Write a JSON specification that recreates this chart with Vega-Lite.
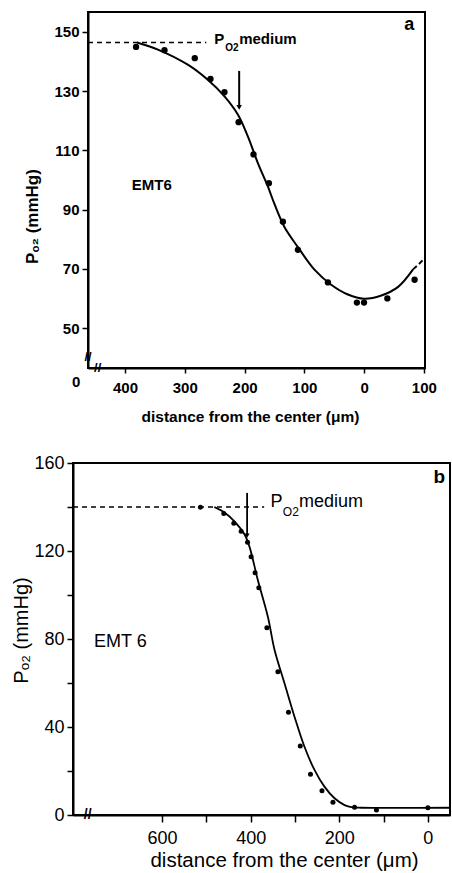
{
  "$schema": "https://vega.github.io/schema/vega-lite/v6.json",
  "padding": {"left": 10, "top": 11, "right": 0, "bottom": 0},
  "background": "white",
  "config": {
    "view": {"stroke": "black", "strokeWidth": 2},
    "axis": {"grid": false, "domainColor": "black", "domainWidth": 2, "tickColor": "black", "tickWidth": 1.5, "labelColor": "black", "titleColor": "black", "labelFont": "Liberation Sans", "titleFont": "Liberation Sans", "labelFlush": false, "labelOverlap": false},
    "text": {"font": "Liberation Sans", "color": "black"}
  },
  "datasets": {
    "aPoints": [
      {"d": 381.6, "v": 144.9}, {"d": 334, "v": 143.8}, {"d": 283.3, "v": 141.1}, {"d": 257, "v": 134.1},
      {"d": 233.6, "v": 129.6}, {"d": 210, "v": 119.5}, {"d": 185, "v": 108.6}, {"d": 159.3, "v": 98.9},
      {"d": 135.8, "v": 85.9}, {"d": 110.7, "v": 76.4}, {"d": 60.5, "v": 65.4}, {"d": 12, "v": 58.6},
      {"d": 0, "v": 58.6}, {"d": -39, "v": 60}, {"d": -84.6, "v": 66.3}
    ],
    "aCurve": [
      {"d": 380, "v": 146.4}, {"d": 345, "v": 144}, {"d": 295, "v": 138.9}, {"d": 261.5, "v": 133.8},
      {"d": 233.6, "v": 128.2}, {"d": 211, "v": 122}, {"d": 194.5, "v": 114.7}, {"d": 177.7, "v": 105.7},
      {"d": 161, "v": 97.8}, {"d": 150, "v": 91.9}, {"d": 133, "v": 84}, {"d": 110.7, "v": 77.3},
      {"d": 83, "v": 69.7}, {"d": 55, "v": 64.6}, {"d": 27, "v": 61.3}, {"d": 0, "v": 59.9},
      {"d": -29, "v": 61}, {"d": -57, "v": 63.9}, {"d": -82, "v": 69.8}
    ],
    "aCurveDash": [{"d": -82, "v": 69.8}, {"d": -92, "v": 71.6}, {"d": -101, "v": 73.5}],
    "aMedium": [{"d": 462, "v": 146.4}, {"d": 264, "v": 146.4}],
    "aArrow": [{"d": 209, "v": 136.8}, {"d": 209, "v": 124.5}],
    "aHead": [{"d": 209, "v": 124.5}],
    "aTexts": [{"d": 250.9, "v": 147.6, "t": "P"}, {"d": 209, "v": 147.6, "t": "medium"}, {"d": 388.8, "v": 98.2, "t": "EMT6"}],
    "aSub": [{"d": 232.5, "v": 144.7, "t": "O2"}],
    "aLetter": [{"d": -75.7, "v": 152.4, "t": "a"}],
    "aZero": [{"d": 482, "v": 31.9, "t": "0"}],
    "aBreaks": [{"d": 462, "v": 40.2, "t": "//"}, {"d": 445.8, "v": 36.5, "t": "//"}],
    "bPoints": [
      {"d": 513.4, "v": 139.9}, {"d": 460.6, "v": 137.1}, {"d": 438, "v": 132.6}, {"d": 421.5, "v": 129},
      {"d": 407, "v": 124}, {"d": 399, "v": 117.4}, {"d": 390, "v": 110.1}, {"d": 381.5, "v": 103.3},
      {"d": 363.4, "v": 85.1}, {"d": 338.5, "v": 65.1}, {"d": 314.6, "v": 46.7}, {"d": 288, "v": 31.4},
      {"d": 264.9, "v": 18.5}, {"d": 239, "v": 11}, {"d": 214.2, "v": 5.8}, {"d": 165.4, "v": 3.5},
      {"d": 116, "v": 2.3}, {"d": 0, "v": 3.3}
    ],
    "bCurve": [
      {"d": 482, "v": 140}, {"d": 460, "v": 137.6}, {"d": 436.7, "v": 133.5}, {"d": 414, "v": 127.6},
      {"d": 402.7, "v": 122}, {"d": 383.8, "v": 106.8}, {"d": 361, "v": 90}, {"d": 346, "v": 75},
      {"d": 323.6, "v": 59.9}, {"d": 301, "v": 44.7}, {"d": 278.5, "v": 31}, {"d": 255.9, "v": 20.5},
      {"d": 233.4, "v": 12.9}, {"d": 210.6, "v": 7.6}, {"d": 188, "v": 4.5}, {"d": 170, "v": 3.5},
      {"d": 150, "v": 3.3}, {"d": -50, "v": 3.3}
    ],
    "bMedium": [{"d": 801, "v": 140}, {"d": 369.5, "v": 140}],
    "bArrow": [{"d": 408, "v": 146.4}, {"d": 408, "v": 127}],
    "bHead": [{"d": 408, "v": 127}],
    "bTexts": [{"d": 355.3, "v": 142.4, "t": "P"}, {"d": 291, "v": 142.4, "t": "medium"}, {"d": 753.7, "v": 78.6, "t": "EMT 6"}],
    "bSub": [{"d": 327.3, "v": 137.9, "t": "O2"}],
    "bLetter": [{"d": -26, "v": 153.8, "t": "b"}],
    "bBreaks": [{"d": 767.8, "v": 0, "t": "//"}]
  },
  "spacing": 27,
  "vconcat": [
    {
      "hconcat": [
        {"width": 15, "height": 1, "data": {"values": []}, "mark": "point", "view": {"stroke": null}},
        {
          "width": 337, "height": 356,
          "encoding": {
            "x": {"field": "d", "type": "quantitative",
              "scale": {"domain": [-102, 462], "reverse": true, "nice": false, "zero": false},
              "axis": {"values": [400, 300, 200, 100, 0, -100], "labelExpr": "abs(datum.value)", "title": "distance from the center (μm)",
                "labelFontSize": 15, "labelFontWeight": "bold", "titleFontSize": 15.5, "titleFontWeight": "bold",
                "tickSize": 5, "labelPadding": 7, "titleX": 162, "titleY": 48, "titleBaseline": "middle", "titleAlign": "center"}},
            "y": {"field": "v", "type": "quantitative",
              "scale": {"domain": [36.5, 156.7], "nice": false, "zero": false},
              "axis": {"values": [50, 70, 90, 110, 130, 150], "title": "Pₒ₂ (mmHg)",
                "labelFontSize": 15, "labelFontWeight": "bold", "titleFontSize": 17, "titleFontWeight": "bold",
                "tickSize": 6, "labelPadding": 3, "titleX": -56, "titleY": 204, "titleBaseline": "middle", "titleAlign": "center", "titleAngle": -90}}
          },
          "layer": [
            {"data": {"name": "aMedium"}, "mark": {"type": "line", "color": "black", "strokeWidth": 1.5, "strokeDash": [5, 4]}},
            {"data": {"name": "aCurve"}, "mark": {"type": "line", "color": "black", "strokeWidth": 2, "interpolate": "catmull-rom"}},
            {"data": {"name": "aCurveDash"}, "mark": {"type": "line", "color": "black", "strokeWidth": 2, "strokeDash": [5, 3]}},
            {"data": {"name": "aArrow"}, "mark": {"type": "line", "color": "black", "strokeWidth": 2}},
            {"data": {"name": "aHead"}, "mark": {"type": "point", "shape": "triangle-down", "filled": true, "color": "black", "size": 30, "opacity": 1}},
            {"data": {"name": "aPoints"}, "mark": {"type": "circle", "color": "black", "size": 40, "opacity": 1}},
            {"data": {"name": "aTexts"}, "mark": {"type": "text", "align": "left", "baseline": "middle", "fontSize": 15, "fontWeight": "bold"}, "encoding": {"text": {"field": "t"}}},
            {"data": {"name": "aSub"}, "mark": {"type": "text", "align": "left", "baseline": "middle", "fontSize": 10, "fontWeight": "bold"}, "encoding": {"text": {"field": "t"}}},
            {"data": {"name": "aLetter"}, "mark": {"type": "text", "align": "center", "baseline": "middle", "fontSize": 18, "fontWeight": "bold"}, "encoding": {"text": {"field": "t"}}},
            {"data": {"name": "aZero"}, "mark": {"type": "text", "align": "center", "baseline": "middle", "fontSize": 15, "fontWeight": "bold"}, "encoding": {"text": {"field": "t"}}},
            {"data": {"name": "aBreaks"}, "mark": {"type": "text", "align": "center", "baseline": "middle", "fontSize": 13, "fontWeight": "bold"}, "encoding": {"text": {"field": "t"}}}
          ]
        }
      ],
      "spacing": 0,
      "bounds": "flush"
    },
    {
      "width": 377, "height": 352,
      "encoding": {
        "x": {"field": "d", "type": "quantitative",
          "scale": {"domain": [-50, 801], "reverse": true, "nice": false, "zero": false},
          "axis": {"values": [600, 500, 400, 300, 200, 100, 0], "labelExpr": "datum.value % 200 === 0 ? datum.label : ''", "title": "distance from the center (μm)",
            "labelFontSize": 18, "titleFontSize": 20.5, "titleFontWeight": "normal",
            "tickSize": 7, "labelPadding": 7, "titleX": 211, "titleY": 45, "titleBaseline": "middle", "titleAlign": "center"}},
        "y": {"field": "v", "type": "quantitative",
          "scale": {"domain": [0, 160], "nice": false, "zero": false},
          "axis": {"values": [0, 20, 40, 60, 80, 100, 120, 140, 160], "labelExpr": "datum.value % 40 === 0 ? datum.label : ''", "title": "Pₒ₂ (mmHg)",
            "labelFontSize": 18, "titleFontSize": 20, "titleFontWeight": "normal",
            "tickSize": 6, "labelPadding": 3, "titleX": -52, "titleY": 167, "titleBaseline": "middle", "titleAlign": "center", "titleAngle": -90}}
      },
      "layer": [
        {"data": {"name": "bMedium"}, "mark": {"type": "line", "color": "black", "strokeWidth": 1.5, "strokeDash": [5, 4]}},
        {"data": {"name": "bCurve"}, "mark": {"type": "line", "color": "black", "strokeWidth": 1.8, "interpolate": "catmull-rom"}},
        {"data": {"name": "bArrow"}, "mark": {"type": "line", "color": "black", "strokeWidth": 1.8}},
        {"data": {"name": "bHead"}, "mark": {"type": "point", "shape": "triangle-down", "filled": true, "color": "black", "size": 25, "opacity": 1}},
        {"data": {"name": "bPoints"}, "mark": {"type": "circle", "color": "black", "size": 25, "opacity": 1}},
        {"data": {"name": "bTexts"}, "mark": {"type": "text", "align": "left", "baseline": "middle", "fontSize": 18}, "encoding": {"text": {"field": "t"}}},
        {"data": {"name": "bSub"}, "mark": {"type": "text", "align": "left", "baseline": "middle", "fontSize": 12}, "encoding": {"text": {"field": "t"}}},
        {"data": {"name": "bLetter"}, "mark": {"type": "text", "align": "center", "baseline": "middle", "fontSize": 19, "fontWeight": "bold"}, "encoding": {"text": {"field": "t"}}},
        {"data": {"name": "bBreaks"}, "mark": {"type": "text", "align": "center", "baseline": "middle", "fontSize": 14, "fontWeight": "bold"}, "encoding": {"text": {"field": "t"}}}
      ]
    }
  ]
}
